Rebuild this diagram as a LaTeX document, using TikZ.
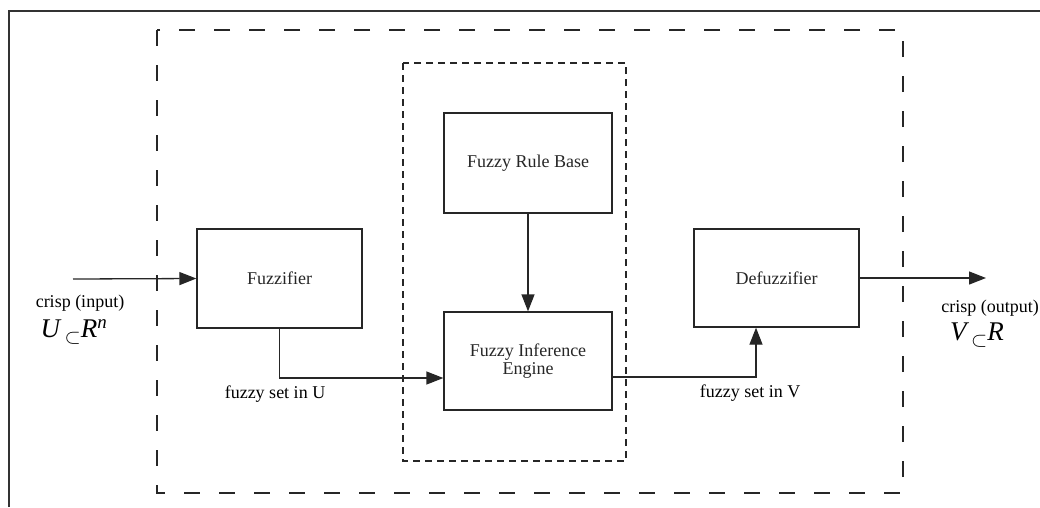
\documentclass[tikz,border=0pt]{standalone}
\usepackage{fontspec}
\setmainfont{Liberation Serif}
\usetikzlibrary{arrows.meta}
\begin{document}
\begin{tikzpicture}[x=1pt,y=-1pt,
  ink/.style={black!85},
  block/.style={draw, ink, line width=1.3pt, inner sep=0pt, align=center,
    font=\fontsize{18}{18}\selectfont},
  flow/.style={ink, line width=1.3pt, -{Triangle[length=17pt,width=13pt]}},
  lbl/.style={inner sep=0pt, font=\fontsize{18}{18}\selectfont},
  setlbl/.style={inner sep=0pt, font=\fontsize{27}{30}\selectfont\itshape},
  system/.style={ink, line width=1.3pt, dash pattern=on 16pt off 19pt},
  inference/.style={ink, line width=1.1pt, dash pattern=on 7pt off 5pt},
  frame/.style={black!80, line width=2pt}]
\useasboundingbox (0,0) rectangle (1040,507);

% page frame
\draw[frame] (9,507) -- (9,11) -- (1040,11);

% system boundary and inference section
\draw[system] (157,30) rectangle (903,493);
\draw[inference] (403,63) rectangle (626,461);

% blocks
\node[block, minimum width=165pt, minimum height=99pt] (fuzz) at (279.5,278.5) {Fuzzifier};
\node[block, minimum width=168pt, minimum height=100pt] (rule) at (528,163) {Fuzzy Rule Base};
\node[block, minimum width=168pt, minimum height=98pt] (inf) at (528,361) {Fuzzy Inference\\Engine};
\node[block, minimum width=165pt, minimum height=98pt] (defuzz) at (776.5,278) {Defuzzifier};

% free ends of the input and output lines
\coordinate (in) at (73,279);
\coordinate (out) at (986,278);

% connectors
\draw[flow] (in) -- (fuzz.west);
\draw[flow] (rule.south) -- (inf.north);
\draw[flow] (fuzz.south) |- ([yshift=-17pt]inf.west);
\draw[flow] ([yshift=-16pt]inf.east) -| ([xshift=-20.5pt]defuzz.south);
\draw[flow] (defuzz.east) -- (out);

% labels
\node[lbl] (setU) at (275,394) {fuzzy set in U};
\node[lbl] (setV) at (750,393) {fuzzy set in V};
\node[lbl] (cin) at (80,303) {crisp (input)};
\node[setlbl] (Uset) at (74,332) {U\,\raisebox{-6pt}{\fontsize{20}{20}\selectfont$\subset$}R\textsuperscript{n}};
\node[lbl] (cout) at (990,308) {crisp (output)};
\node[setlbl] (Vset) at (977,335) {V\,\raisebox{-6pt}{\fontsize{20}{20}\selectfont$\subset$}R};
\end{tikzpicture}
\end{document}
